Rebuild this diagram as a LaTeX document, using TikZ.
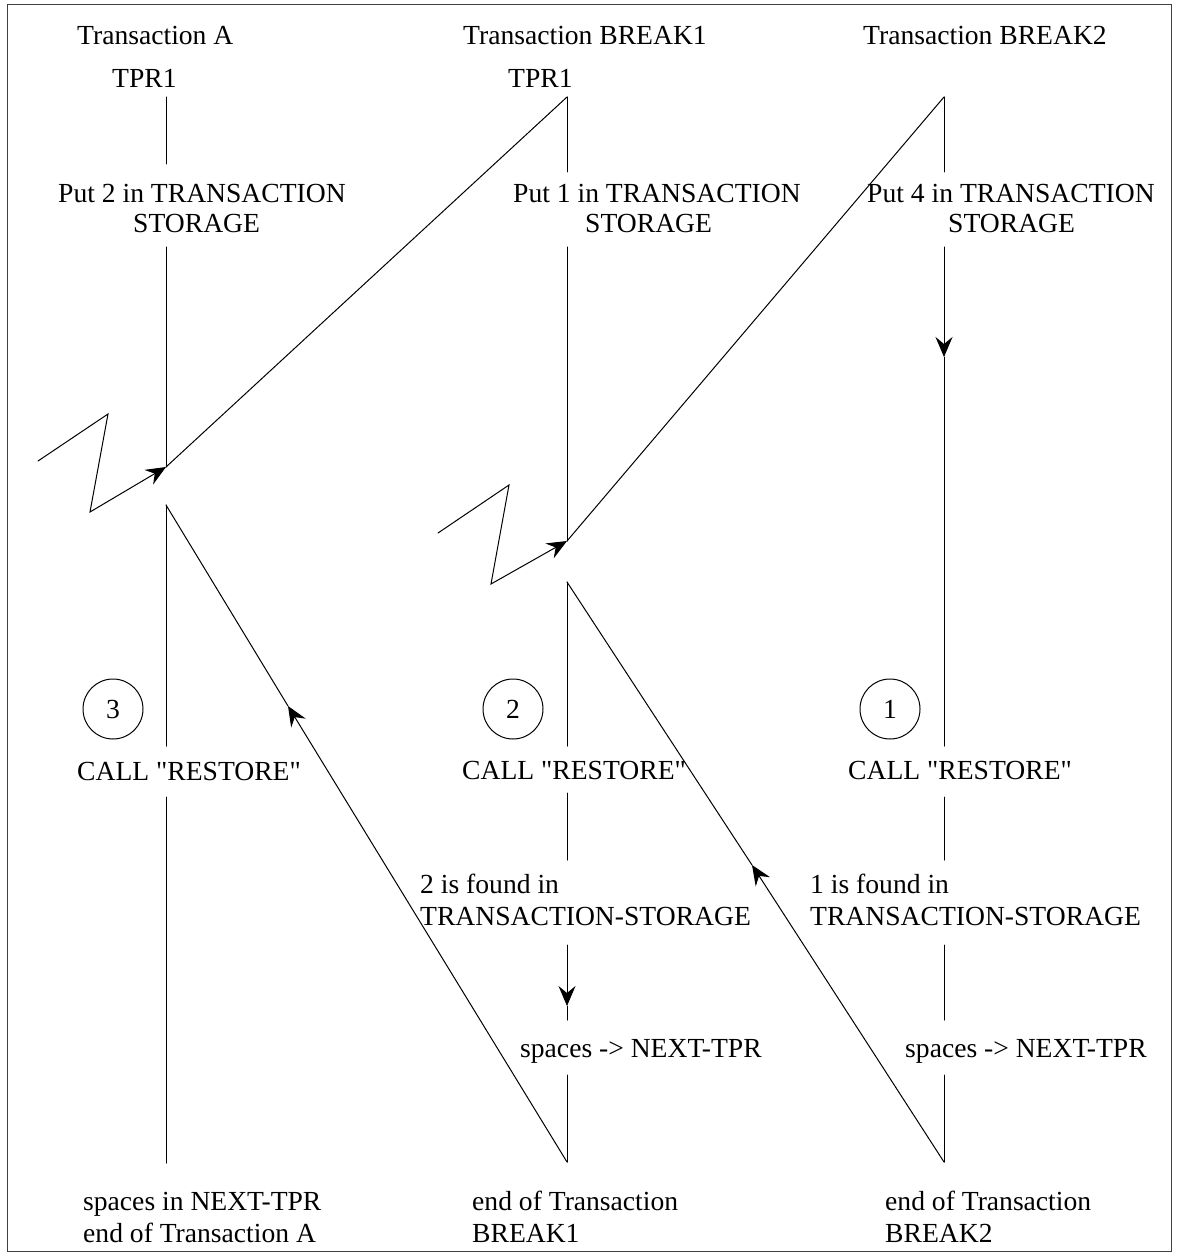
\documentclass[tikz,border=0pt]{standalone}
\usepackage{fontspec}
\setmainfont{Liberation Serif}
\usetikzlibrary{arrows.meta}
\begin{document}
\begin{tikzpicture}[x=1pt,y=-1pt,
  lbl/.style={inner sep=0pt, font=\fontsize{27.6}{33}\selectfont},
  lblw/.style={lbl, anchor=base west},
  wire/.style={line width=1pt, line cap=round},
  headarrow/.style={wire, -{Stealth[length=20pt,width=17pt,inset=7pt]}},
  stepno/.style={circle, draw, line width=1pt, minimum size=60pt, inner sep=0pt,
                 font=\fontsize{27.6}{33}\selectfont},
  frameline/.style={draw=black!75, line width=1pt}]
\useasboundingbox (0,0) rectangle (1177,1257);
\draw[frameline] (7,5) rectangle (1171,1251);

% ---------- texts ----------
\node[lblw] (tA)   at (77,45)  {Transaction A};
\node[lblw] (tB)   at (463,45) {Transaction BREAK1};
\node[lblw] (tC)   at (863,45) {Transaction BREAK2};
\node[lblw] (prA)  at (112,88) {TPR1};
\node[lblw] (prB)  at (508,88) {TPR1};

\node[lblw] (putA1) at (58,203)  {Put 2 in TRANSACTION};
\node[lblw] (putA2) at (133,233) {STORAGE};
\node[lblw] (putB1) at (513,203) {Put 1 in TRANSACTION};
\node[lblw] (putB2) at (585,233) {STORAGE};
\node[lblw] (putC1) at (867,203) {Put 4 in TRANSACTION};
\node[lblw] (putC2) at (948,233) {STORAGE};

\node[stepno] (nA) at (113,709) {3};
\node[stepno] (nB) at (513,709) {2};
\node[stepno] (nC) at (890,709) {1};

\node[lblw] (callA) at (77,780)  {CALL \textquotedbl RESTORE\textquotedbl};
\node[lblw] (callB) at (462,779) {CALL \textquotedbl RESTORE\textquotedbl};
\node[lblw] (callC) at (848,779) {CALL \textquotedbl RESTORE\textquotedbl};

\node[lblw] (fndB1) at (420,893) {2 is found in};
\node[lblw] (fndB2) at (420,925) {TRANSACTION-STORAGE};
\node[lblw] (fndC1) at (810,893) {1 is found in};
\node[lblw] (fndC2) at (810,925) {TRANSACTION-STORAGE};

\node[lblw] (spB) at (520,1057) {spaces -> NEXT-TPR};
\node[lblw] (spC) at (905,1057) {spaces -> NEXT-TPR};

\node[lblw] (endA1) at (83,1210)  {spaces in NEXT-TPR};
\node[lblw] (endA2) at (83,1242)  {end of Transaction A};
\node[lblw] (endB1) at (472,1210) {end of Transaction};
\node[lblw] (endB2) at (472,1242) {BREAK1};
\node[lblw] (endC1) at (885,1210) {end of Transaction};
\node[lblw] (endC2) at (885,1242) {BREAK2};

% ---------- points of the time lines ----------
% Transaction A
\coordinate (a0) at (166,97);   \coordinate (a1) at (166,164);
\coordinate (a2) at (166,247);  \coordinate (aI) at (166,467);
\coordinate (aR) at (166,505);  \coordinate (a3) at (166,746);
\coordinate (a4) at (166,797);  \coordinate (a5) at (166,1163);
% Transaction BREAK1
\coordinate (b0) at (567,97);   \coordinate (b1) at (567,172);
\coordinate (b2) at (567,247);  \coordinate (bI) at (567,541);
\coordinate (bR) at (567,582);  \coordinate (b3) at (567,746);
\coordinate (b4) at (567,793);  \coordinate (b5) at (567,860);
\coordinate (b6) at (567,945);  \coordinate (bM) at (567,1006);
\coordinate (b7) at (567,1020); \coordinate (b8) at (567,1075);
\coordinate (b9) at (567,1162);
% Transaction BREAK2
\coordinate (c0) at (944,97);   \coordinate (c1) at (944,172);
\coordinate (c2) at (944,247);  \coordinate (cM) at (944,357);
\coordinate (c3) at (944,746);  \coordinate (c4) at (944,797);
\coordinate (c5) at (944,860);  \coordinate (c6) at (944,945);
\coordinate (c7) at (944,1020); \coordinate (c8) at (944,1075);
\coordinate (c9) at (944,1162);
% interrupt zigzags
\coordinate (za1) at (38,461);  \coordinate (za2) at (108,414);
\coordinate (za3) at (90,512);
\coordinate (zb1) at (438,533); \coordinate (zb2) at (509,485);
\coordinate (zb3) at (491,584);
% arrow marks on the return paths
\coordinate (rA) at (288,706);
\coordinate (rB) at (752,865);

% ---------- vertical time lines ----------
\draw[wire] (a0) -- (a1);
\draw[wire] (a2) -- (aI);
\draw[wire] (aR) -- (a3);
\draw[wire] (a4) -- (a5);

\draw[wire] (b0) -- (b1);
\draw[wire] (b2) -- (bI);
\draw[wire] (bR) -- (b3);
\draw[wire] (b4) -- (b5);
\draw[headarrow] (b6) -- (bM);
\draw[wire] (bM) -- (b7);
\draw[wire] (b8) -- (b9);

\draw[wire] (c0) -- (c1);
\draw[headarrow] (c2) -- (cM);
\draw[wire] (cM) -- (c3);
\draw[wire] (c4) -- (c5);
\draw[wire] (c6) -- (c7);
\draw[wire] (c8) -- (c9);

% ---------- interrupts and hand-overs ----------
\draw[headarrow, line join=miter] (za1) -- (za2) -- (za3) -- (aI);
\draw[headarrow, line join=miter] (zb1) -- (zb2) -- (zb3) -- (bI);
\draw[wire] (aI) -- (b0);
\draw[wire] (bI) -- (c0);

\draw[headarrow] (b9) -- (rA);
\draw[wire] (rA) -- (aR);
\draw[headarrow] (c9) -- (rB);
\draw[wire] (rB) -- (bR);
\end{tikzpicture}
\end{document}
